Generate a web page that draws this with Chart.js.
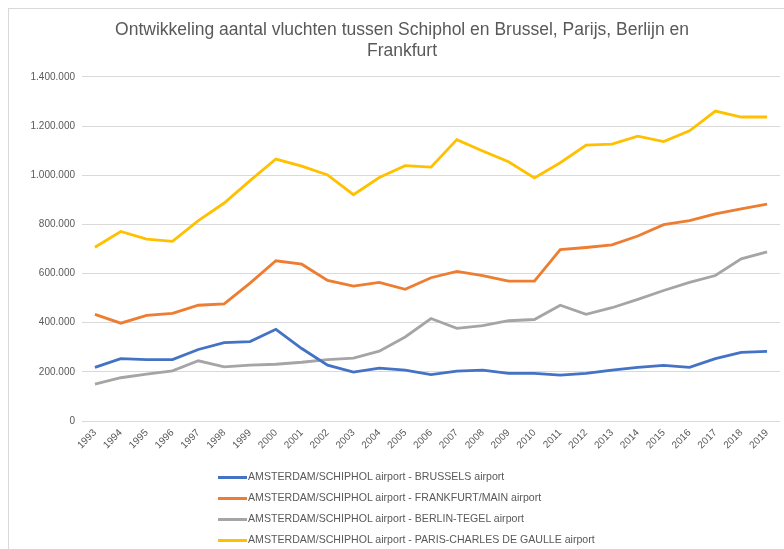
<!DOCTYPE html>
<html>
<head>
<meta charset="utf-8">
<script src="https://cdn.jsdelivr.net/npm/chart.js@4"></script>
<style>
  html, body { margin: 0; padding: 0; background: #fff; overflow: hidden; }
  #wrap { position: relative; width: 784px; height: 549px; }
  #frame { position: absolute; left: 8px; top: 8px; width: 800px; height: 560px; border: 1px solid #d9d9d9; }
  #legend { position: absolute; left: 218px; top: 468px; font: 10.6px "Liberation Sans", Arial, sans-serif; color: #595959; }
  #legend div { height: 21px; line-height: 16px; white-space: nowrap; }
  #legend span.sw { display: inline-block; width: 29px; height: 3px; vertical-align: middle; margin-right: 1px; }
</style>
</head>
<body>
<div id="wrap">
  <div id="frame"></div>
  <canvas id="myChart" width="784" height="549"></canvas>
  <div id="legend"></div>
</div>
<script>
var years = ["1993","1994","1995","1996","1997","1998","1999","2000","2001","2002","2003","2004","2005",
  "2006","2007","2008","2009","2010","2011","2012","2013","2014","2015","2016","2017","2018","2019"];

var brussels = [218000, 254000, 250000, 250000, 291000, 319000, 323000, 373000, 295000, 227000, 199000, 215000, 207000,
  189000, 203000, 207000, 194000, 194000, 187000, 194000, 207000, 218000, 226000, 218000, 254000, 279000, 283000];

var frankfurt = [434000, 398000, 430000, 438000, 471000, 477000, 561000, 652000, 638000, 572000, 549000, 564000, 536000,
  583000, 609000, 592000, 569000, 569000, 697000, 706000, 717000, 753000, 799000, 815000, 843000, 863000, 883000];

var berlin = [150000, 176000, 191000, 204000, 245000, 220000, 227000, 231000, 239000, 250000, 256000, 284000, 342000,
  417000, 377000, 388000, 408000, 413000, 471000, 434000, 461000, 495000, 531000, 564000, 592000, 660000, 688000];

var paris = [707000, 771000, 740000, 731000, 815000, 887000, 978000, 1066000, 1037000, 1001000, 921000, 991000, 1039000,
  1033000, 1145000, 1099000, 1055000, 989000, 1051000, 1123000, 1127000, 1159000, 1137000, 1181000, 1261000, 1237000, 1237000];

var seriesNames = [
  "AMSTERDAM/SCHIPHOL airport - BRUSSELS airport",
  "AMSTERDAM/SCHIPHOL airport - FRANKFURT/MAIN airport",
  "AMSTERDAM/SCHIPHOL airport - BERLIN-TEGEL airport",
  "AMSTERDAM/SCHIPHOL airport - PARIS-CHARLES DE GAULLE airport"
];
var lineColors = ["#4472C4", "#ED7D31", "#A5A5A5", "#FFC000"];
var titleLines = ["Ontwikkeling aantal vluchten tussen Schiphol en Brussel, Parijs, Berlijn en", "Frankfurt"];

var allValues = [brussels, frankfurt, berlin, paris];
var datasets = [];
for (var i = 0; i < allValues.length; i++) {
  datasets.push({
    label: seriesNames[i],
    data: allValues[i],
    borderColor: lineColors[i],
    backgroundColor: lineColors[i],
    borderWidth: 2.8,
    pointRadius: 0,
    tension: 0,
    fill: false
  });
}

function dots(v) {
  return String(v).replace(/\B(?=(\d{3})+(?!\d))/g, ".");
}

var grey = "#595959";
var sans = "'Liberation Sans', Arial, sans-serif";

var chart = new Chart("myChart", {
  type: "line",
  data: { labels: years, datasets: datasets },
  options: {
    responsive: false,
    animation: false,
    layout: { padding: { left: 24, right: 4, top: 0, bottom: 88 } },
    plugins: {
      legend: { display: false },
      tooltip: { enabled: false },
      title: {
        display: true,
        text: titleLines,
        color: grey,
        font: { family: sans, size: 17.5, weight: "normal", lineHeight: 1.17 },
        padding: { top: 20, bottom: 16 }
      }
    },
    scales: {
      x: {
        offset: true,
        grid: { display: false, drawTicks: false },
        border: { display: false },
        ticks: {
          color: grey,
          font: { family: sans, size: 10 },
          minRotation: 45,
          maxRotation: 45,
          autoSkip: false,
          padding: 6
        },
        afterFit: function (s) { s.height = 40; }
      },
      y: {
        min: 0,
        max: 1400000,
        grid: { color: "#d9d9d9", lineWidth: 1, drawTicks: false },
        border: { display: false },
        ticks: {
          stepSize: 200000,
          color: grey,
          padding: 7,
          font: { family: sans, size: 10 },
          callback: function (v) { return dots(v); }
        },
        afterFit: function (s) { s.width = 58; }
      }
    }
  }
});

var legend = document.getElementById("legend");
for (var j = 0; j < seriesNames.length; j++) {
  var row = document.createElement("div");
  var sw = document.createElement("span");
  sw.className = "sw";
  sw.style.background = lineColors[j];
  row.appendChild(sw);
  row.appendChild(document.createTextNode(seriesNames[j]));
  legend.appendChild(row);
}
</script>
</body>
</html>
